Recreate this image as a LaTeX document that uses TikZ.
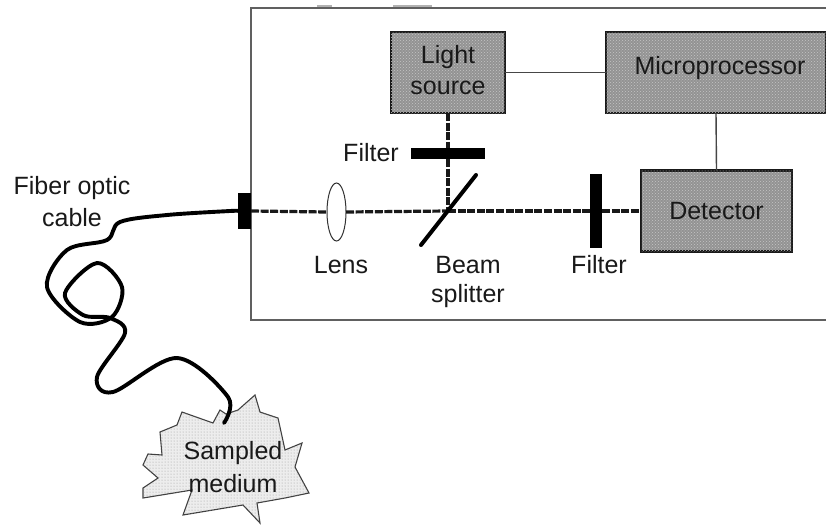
\documentclass[tikz,border=0pt]{standalone}
\usepackage{fontspec}
\setmainfont{Liberation Sans}
\usetikzlibrary{patterns,shapes.geometric}
\definecolor{ink}{gray}{0.1}
\tikzset{
  x=1pt,y=-1pt,
  every node/.style={inner sep=0pt,outer sep=0pt,text=ink,font=\fontsize{25}{31}\selectfont,align=center},
  unitbox/.style={draw=ink,line width=2.8pt,rectangle,fill=gray!85,postaction={pattern=crosshatch dots,pattern color=gray!45}},
  frameline/.style={draw=gray!75!black,line width=1.1pt},
  wire/.style={draw=gray!55!black,line width=1.4pt},
  beam/.style={draw=ink,line width=3.2pt,dash pattern=on 8pt off 1.6pt},
  block/.style={fill=black,rectangle},
  cable/.style={draw=black,line width=3.9pt,line cap=round,line join=round},
  lensshape/.style={ellipse,draw=gray!40!black,fill=white,line width=1pt,minimum width=19pt,minimum height=58pt},
  smudge/.style={draw=gray!60,line width=1.4pt},
}
\begin{document}
\begin{tikzpicture}
\useasboundingbox (0,0) rectangle (826,525);
\fill[white] (0,0) rectangle (826,525);
% housing
\coordinate (ftr) at (826,8);
\coordinate (ftl) at (251,8);
\coordinate (fbl) at (251,320);
\coordinate (fbr) at (826,320);
\draw[frameline] (ftr) -- (ftl) -- (fbl) -- (fbr);
\coordinate (sa) at (317,6); \coordinate (sb) at (332,6);
\coordinate (sc) at (393,6); \coordinate (sd) at (432,6);
\draw[smudge] (sa) -- (sb);
\draw[smudge] (sc) -- (sd);
% units
\node[unitbox,minimum width=114pt,minimum height=81pt] (light) at (448,72.5) {};
\node at (448,57) {Light};
\node at (448,88) {source};
\node[unitbox,minimum width=220pt,minimum height=81pt] (micro) at (716,72.5) {};
\node at (720,68) {Microprocessor};
\node[unitbox,minimum width=151pt,minimum height=81pt] (det) at (716.5,211) {Detector};
% optics
\node[block,minimum width=13pt,minimum height=36pt] (port) at (244.5,211) {};
\node[lensshape] (lens) at (336.5,212) {};
\coordinate (split) at (448,211);
\coordinate (spa) at (476,175);
\coordinate (spb) at (421,245);
\node[block,minimum width=74pt,minimum height=11pt] (filta) at (448,153.5) {};
\node[block,minimum width=12pt,minimum height=74pt] (filtb) at (596,211) {};
% beams
\draw[beam] (port.east) -- (lens.west);
\draw[beam] (lens.east) -- (split);
\draw[beam] (split) -- (filtb.west);
\draw[beam] (filtb.east) -- (det.west);
\draw[beam] (light.south) -- (filta.north);
\draw[beam] (filta.south) -- (split);
\draw[draw=black,line width=4pt,line cap=round] (spa) -- (spb);
% wires
\draw[wire] (light) -- (micro);
\draw[wire] (micro.south) -- (det.north);
% labels
\node (lf1) at (371,153) {Filter};
\node (ll) at (341,265) {Lens};
\node (lb) at (468,265) {Beam};
\node (ls) at (468,296) {splitter};
\node (lf2) at (599,265) {Filter};
\node (lc1) at (72,188) {Fiber optic};
\node (lc2) at (72,218) {cable};
% sampled medium
\coordinate (cableend) at (224,423);
\draw[draw=gray!50!black,line width=1.1pt,fill=gray!14,postaction={pattern=dots,pattern color=gray!80}]
  (182,412) -- (213,423) -- (220,410) -- (226,414) -- (238,410) -- (255,395) -- (260,412) -- (278,418)
  -- (285,450) -- (302,443) -- (295,467) -- (309,493) -- (285,498) -- (257,503) -- (260,523)
  -- (243,505) -- (183,515) -- (192,490) -- (143,498) -- (143,488) -- (158,478) -- (143,465)
  -- (148,454) -- (162,455) -- (160,432) -- (177,425) -- cycle;
\node (samp) at (233,453) {Sampled};
\node (med) at (233,484) {medium};
% fiber
\draw[cable] plot[smooth,tension=.55] coordinates {(port.west) (230,211) (167,215) (120,222) (107,240) (67,250) (47,287) (80,322) (112,317) (122,287) (97,263) (65,293) (83,315) (110,318) (125,333) (97,377) (113,392) (177,358) (228,397) (cableend)};
\end{tikzpicture}
\end{document}
